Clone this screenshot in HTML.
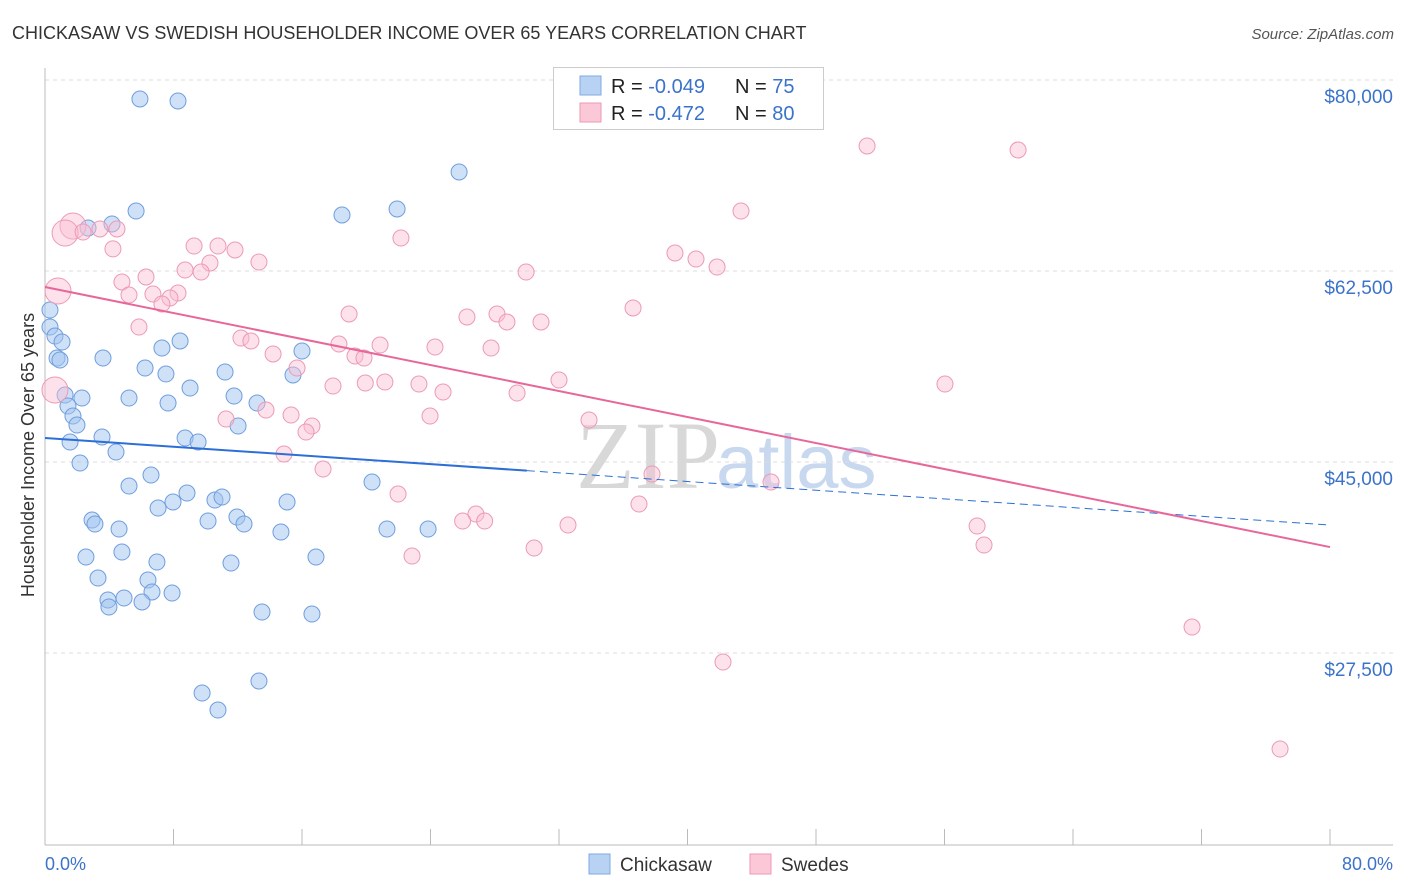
<!DOCTYPE html>
<html><head><meta charset="utf-8"><style>
body{margin:0;background:#fff;font-family:"Liberation Sans",sans-serif;}
#wrap{position:relative;width:1406px;height:892px;overflow:hidden;}
</style></head><body>
<div id="wrap">
<svg id="chart" width="1406" height="892">
<text x="12" y="39" font-size="18" fill="#333">CHICKASAW VS SWEDISH HOUSEHOLDER INCOME OVER 65 YEARS CORRELATION CHART</text>
<text x="1394" y="39" font-size="15" fill="#555" font-style="italic" text-anchor="end">Source: ZipAtlas.com</text>
<text x="720" y="488" font-size="96" fill="#d8d8d8" text-anchor="end" font-family="Liberation Serif">ZIP</text>
<text x="716" y="488" font-size="76" fill="#c8d8ef">atlas</text>
<g id="grid"></g><g id="axes"></g><g id="pts"></g><g id="trend"></g>
<text transform="translate(34,455) rotate(-90)" font-size="18" fill="#333" text-anchor="middle">Householder Income Over 65 years</text>
<text x="45" y="870" font-size="18" fill="#3b73c9">0.0%</text>
<text x="1393" y="870" font-size="18" fill="#3b73c9" text-anchor="end">80.0%</text>
<g>
<rect x="553.5" y="67.5" width="270" height="62" fill="#fff" stroke="#ccc"/>
<rect x="580" y="76" width="21" height="19" fill="#b8d2f3" stroke="#7fa9e0"/>
<rect x="580" y="103" width="21" height="19" fill="#fbc8d8" stroke="#ee99b4"/>
<text x="611" y="93" font-size="20" fill="#222">R = <tspan fill="#3b73c9">-0.049</tspan></text>
<text x="735" y="93" font-size="20" fill="#222">N = <tspan fill="#3b73c9">75</tspan></text>
<text x="611" y="120" font-size="20" fill="#222">R = <tspan fill="#3b73c9"> -0.472</tspan></text>
<text x="735" y="120" font-size="20" fill="#222">N = <tspan fill="#3b73c9">80</tspan></text>
</g>
<g>
<rect x="589" y="854" width="21" height="20" fill="#b8d2f3" stroke="#7fa9e0"/>
<text x="620" y="871" font-size="19" fill="#333">Chickasaw</text>
<rect x="750" y="854" width="21" height="20" fill="#fbc8d8" stroke="#ee99b4"/>
<text x="781" y="871" font-size="19" fill="#333">Swedes</text>
</g>
</svg>
</div>
<script>
const yTicks=[80000,62500,45000,27500];
const yTickLabels=["$80,000","$62,500","$45,000","$27,500"];
const xTicks=[0,8,16,24,32,40,48,56,64,72,80];
const chX=[5.91,8.28,25.78,5.67,18.49,21.92,4.17,2.68,0.31,0.31,0.62,1.06,0.75,0.93,3.61,8.41,7.28,6.23,7.53,11.21,15.44,16.0,9.03,1.25,2.3,5.23,7.66,11.77,13.2,1.43,1.74,1.99,12.02,3.55,1.56,8.72,9.53,4.42,2.18,6.6,5.23,20.36,8.84,10.58,11.02,7.97,7.04,15.07,11.95,2.93,3.11,10.15,12.39,4.61,14.69,21.29,23.85,2.55,4.79,6.97,11.58,16.87,3.3,6.41,6.66,7.91,3.92,4.92,3.98,6.04,13.51,16.62,9.78,13.32,10.77];
const chY=[78259,78076,71570,67996,67630,68180,66808,66439,58925,57367,56543,55993,54527,54344,54527,56085,55443,53610,53061,53244,52969,55168,51778,51136,50861,50861,50403,51045,50403,50128,49212,48387,48296,47288,46830,47196,46830,45914,44906,43806,42798,43165,42157,41516,41791,41333,40783,41333,39958,39683,39317,39592,39317,38859,38584,38859,38859,36293,36751,35835,35744,36293,34369,34186,33087,32995,32354,32537,31712,32171,31254,31071,23830,24930,22273];
const swX=[51.18,60.58,43.33,1.74,1.25,2.37,3.42,4.48,22.16,4.23,9.28,10.77,11.83,39.22,40.53,41.84,13.32,10.27,8.72,9.72,29.95,6.29,4.79,0.81,5.23,6.72,8.28,7.78,7.28,36.61,18.93,26.27,28.14,28.76,30.88,5.85,12.2,12.82,18.3,20.86,24.28,27.77,19.3,19.86,14.2,15.69,32.0,56.03,17.93,19.94,21.16,23.28,24.78,29.39,0.62,13.76,15.32,23.97,11.27,33.87,16.62,16.25,14.88,17.31,37.79,45.2,21.98,36.98,26.83,26.0,27.37,32.56,58.03,58.46,30.45,22.85,71.41,42.21,76.89];
const swY=[73952,73586,67996,66621,65980,66072,66347,66347,65522,64522,64789,64789,64423,64148,63598,62865,63323,63232,62590,62407,62407,61949,61491,60666,60300,60391,60483,60025,59475,59109,58559,58284,58559,57826,57826,57367,56359,56085,55810,55718,55535,55443,54710,54527,54894,53610,52511,52145,51961,52236,52328,52145,51412,51320,51595,49762,49304,49212,48937,48845,48296,47746,45731,44356,43898,43165,42065,41149,40232,39592,39592,39225,39134,37393,37118,36385,29879,26672,18700];
const swW=[1,1,1,2,2,1,1,1,1,1,1,1,1,1,1,1,1,1,1,1,1,1,1,2,1,1,1,1,1,1,1,1,1,1,1,1,1,1,1,1,1,1,1,1,1,1,1,1,1,1,1,1,1,1,2,1,1,1,1,1,1,1,1,1,1,1,1,1,1,1,1,1,1,1,1,1,1,1,1];
const chTrend=[47196,39225];
const swTrend=[61033,37207];
const X=v=>45+v/80*1285;
const Y=v=>80+(80000-v)/1000*10.914;
const NS="http://www.w3.org/2000/svg";
function mk(p,tag,a){const e=document.createElementNS(NS,tag);for(const k in a)e.setAttribute(k,a[k]);p.appendChild(e);return e;}
const grid=document.getElementById('grid'),axes=document.getElementById('axes'),pts=document.getElementById('pts'),tr=document.getElementById('trend');
yTicks.forEach((t,i)=>{
 const l=mk(grid,'line',{x1:45,x2:1393,y1:Y(t),y2:Y(t),stroke:'#ddd','stroke-dasharray':'4,4'});
 
 
 const tx=mk(grid,'text',{x:1393,y:Y(t)+23,'font-size':19,fill:'#3b73c9','text-anchor':'end'});
 tx.textContent=yTickLabels[i];
 
 
});
let a1=mk(axes,'line',{x1:45,x2:45,y1:68,y2:845,stroke:'#bbb'});


let a2=mk(axes,'line',{x1:45,x2:1393,y1:845,y2:845,stroke:'#bbb'});


xTicks.forEach(t=>{
 const l=mk(axes,'line',{x1:X(t),x2:X(t),y1:829,y2:845,stroke:'#bbb'});
 
 
});
chX.forEach((x,i)=>{
 const c=mk(pts,'circle',{cx:X(x),cy:Y(chY[i]),r:8,fill:'rgba(160,195,240,0.5)',stroke:'#6f9ede','stroke-width':1});
 
 
});
swX.forEach((x,i)=>{
 const c=mk(pts,'circle',{cx:X(x),cy:Y(swY[i]),r:swW[i]>1?13:8,fill:'rgba(250,190,210,0.45)',stroke:'#ec9ab5','stroke-width':1});
 
 
});
const chAt=v=>chTrend[0]+(chTrend[1]-chTrend[0])*v/80;
let b1=mk(tr,'line',{x1:X(0),y1:Y(chAt(0)),x2:X(30),y2:Y(chAt(30)),stroke:'#2d6fd6','stroke-width':2});


let b2=mk(tr,'line',{x1:X(30),y1:Y(chAt(30)),x2:X(80),y2:Y(chAt(80)),stroke:'#2d6fd6','stroke-width':1,'stroke-dasharray':'8,5'});


let p1=mk(tr,'line',{x1:X(0),y1:Y(swTrend[0]),x2:X(80),y2:Y(swTrend[1]),stroke:'#e8679a','stroke-width':2});


</script>
</body></html>
